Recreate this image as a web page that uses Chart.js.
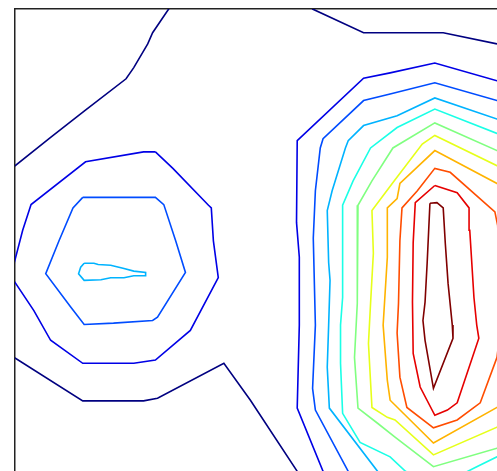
<!DOCTYPE html>
<html>
<head>
<meta charset="utf-8">
<script src="https://cdn.jsdelivr.net/npm/chart.js@4/dist/chart.umd.min.js"></script>
<style>
  html, body { margin: 0; padding: 0; background: #fff; }
  #wrap { width: 497px; height: 471px; position: relative; }
</style>
</head>
<body>
<div id="wrap"><canvas id="chart"></canvas></div>
<script>
// Contour polylines, [x, y] in grid units (y grows downward).
// Colours follow the jet colormap, lowest level first.
const levelColors = ['#000080', '#0000E6', '#004CFF', '#00B3FF', '#1AFFE6', '#80FF80',
                     '#E6FF1A', '#FFB300', '#FF4D00', '#E60000', '#800000'];

// level 1
const lvl1North = [[2.26,-0.1],[2.20,0],[1.97,0.36],[1.90,0.53],[1.70,0.89],[1.59,1.06],[0.99,1.55],[0.51,1.95],[0,2.38],[-0.1,2.46]];
const lvl1NorthEast = [[4.20,-0.1],[4.26,0],[4.99,0.36],[6.13,0.36],[6.90,0.53],[7.09,0.58]];
const lvl1South = [[-0.1,5.25],[0,5.30],[0.97,5.95],[1.84,5.95],[2.04,5.91],[2.99,5.38],[3.37,5.94],[4.04,7.02],[4.10,7.17]];

// level 2
const lvl2West = [[2.01,2.17],[2.26,2.42],[2.77,2.98],[2.81,3.02],[2.84,3.52],[2.91,4.08],[2.51,4.88],[2.01,5.33],[1.70,5.38],
                  [0.97,5.38],[0.51,5.03],[0.27,4.58],[-0.02,4.12],[-0.01,3.85],[0.11,3.36],[0.23,2.97],[1.01,2.32],[1.84,2.17],[2.01,2.17]];
const lvl2East = [[7.09,1.15],[6.90,1.09],[6.01,0.82],[5.37,0.97],[4.99,1.05],[4.04,2.00],[4.03,3.24],[4.07,3.77],[4.07,4.80],
                  [4.04,6.06],[4.41,7.02],[4.51,7.17]];

// level 3
const lvl3West = [[0.97,2.86],[2.01,2.86],[2.13,2.97],[2.30,3.52],[2.44,4.00],[2.04,4.68],[1.97,4.73],[1.41,4.77],[0.99,4.79],
                  [0.80,4.53],[0.44,4.02],[0.63,3.52],[0.83,3.02],[0.97,2.86]];
const lvl3East = [[7.09,1.45],[6.90,1.39],[6.01,1.12],[5.37,1.29],[4.99,1.39],[4.41,1.97],[4.37,2.11],[4.30,2.76],[4.27,3.48],
                  [4.30,4.80],[4.26,5.76],[4.30,6.09],[4.77,7.02],[4.87,7.17]];

// level 4
const lvl4West = [[0.99,3.86],[1.13,3.86],[1.19,3.88],[1.37,3.89],[1.56,3.94],[1.70,3.98],[1.87,4.00],[1.87,4.05],[1.70,4.05],
                  [1.56,4.08],[1.37,4.08],[1.23,4.11],[0.99,4.12],[0.91,4.02],[0.94,3.92],[0.99,3.86]];
const lvl4East = [[7.09,1.73],[6.90,1.67],[6.01,1.35],[5.47,1.62],[4.99,1.77],[4.77,2.00],[4.73,2.11],[4.54,2.76],[4.47,3.06],
                  [4.49,3.85],[4.51,4.12],[4.49,4.80],[4.47,5.44],[4.50,6.06],[5.19,7.02],[5.30,7.17]];

// levels 5 - 11
const lvl5 = [[7.09,1.97],[6.90,1.89],[6.01,1.52],[5.47,1.80],[5.09,2.11],[4.84,2.61],[4.69,2.98],[4.69,3.39],[4.69,4.38],
              [4.66,4.80],[4.66,5.38],[4.69,6.14],[4.94,6.58],[5.37,6.80],[5.59,7.02],[6.09,7.23],[6.61,6.95],[6.90,6.80],[7.09,6.73]];
const lvl6 = [[7.09,2.24],[6.90,2.15],[6.01,1.73],[5.41,2.11],[5.11,2.61],[4.91,2.98],[4.90,4.47],[4.86,5.29],[4.91,6.06],
              [5.19,6.29],[5.44,6.50],[5.99,6.95],[6.90,6.67],[7.09,6.61]];
const lvl7 = [[7.09,2.47],[6.90,2.38],[6.01,1.92],[5.83,2.05],[5.40,2.65],[5.11,3.06],[5.13,3.71],[5.09,4.47],[5.06,5.08],
              [5.11,6.05],[5.33,6.20],[5.44,6.24],[5.99,6.77],[6.90,6.35],[7.09,6.26]];
const lvl8 = [[7.09,2.76],[6.90,2.65],[6.01,2.15],[5.51,2.65],[5.47,2.88],[5.33,3.02],[5.33,3.77],[5.27,4.80],[5.33,5.64],
              [5.37,5.94],[5.99,6.59],[6.90,6.05],[7.09,5.95]];
const lvl9 = [[6.93,3.89],[6.91,3.29],[6.87,3.08],[6.23,2.48],[6.01,2.42],[5.76,2.76],[5.54,3.02],[5.51,3.52],[5.49,4.47],
              [5.47,4.92],[5.51,5.59],[5.61,6.05],[5.99,6.36],[6.33,6.24],[6.66,5.98],[6.90,5.29],[6.93,5.03],[7.01,4.42],[6.93,3.89]];
const lvl10 = [[6.01,2.68],[5.73,2.94],[5.70,3.55],[5.69,4.45],[5.70,5.23],[5.80,5.74],[6.01,6.17],[6.19,6.09],[6.33,5.98],
               [6.64,5.00],[6.61,4.80],[6.57,4.38],[6.51,3.36],[6.50,3.02],[6.33,2.79],[6.01,2.68]];
const lvl11 = [[5.94,2.95],[6.04,2.94],[6.13,3.02],[6.16,3.56],[6.20,4.17],[6.26,4.80],[6.27,5.00],[5.99,5.76],[5.87,5.03],
               [5.84,4.73],[5.87,4.45],[5.90,3.86],[5.94,2.95]];

// each polyline with its level index
const contours = [
  [lvl1North, 0], [lvl1NorthEast, 0], [lvl1South, 0],
  [lvl2West, 1], [lvl2East, 1],
  [lvl3West, 2], [lvl3East, 2],
  [lvl4West, 3], [lvl4East, 3],
  [lvl5, 4], [lvl6, 5], [lvl7, 6], [lvl8, 7], [lvl9, 8], [lvl10, 9], [lvl11, 10]
];

const datasets = contours.map(([pts, lv]) => ({
  data: pts.map(([x, y]) => ({ x, y })),
  borderColor: levelColors[lv],
  borderWidth: 1.6,
  showLine: true,
  fill: false,
  tension: 0,
  pointRadius: 0,
  pointHoverRadius: 0
}));

const frameAxis = (position, extra) => Object.assign({
  type: 'linear',
  position,
  ticks: { display: false },
  grid: { display: false },
  border: { display: true, color: '#222', width: 1.5 }
}, extra);

new Chart(document.getElementById('chart'), {
  type: 'scatter',
  data: { datasets },
  options: {
    responsive: true,
    maintainAspectRatio: false,
    animation: false,
    events: [],
    layout: { padding: { left: 7, top: 1, right: 0, bottom: 0 } },
    plugins: { legend: { display: false }, tooltip: { enabled: false } },
    scales: {
      x: frameAxis('top', { min: 0, max: 6.9 }),
      y: frameAxis('left', { min: 0, max: 7.015, reverse: true })
    }
  }
});
</script>
</body>
</html>
